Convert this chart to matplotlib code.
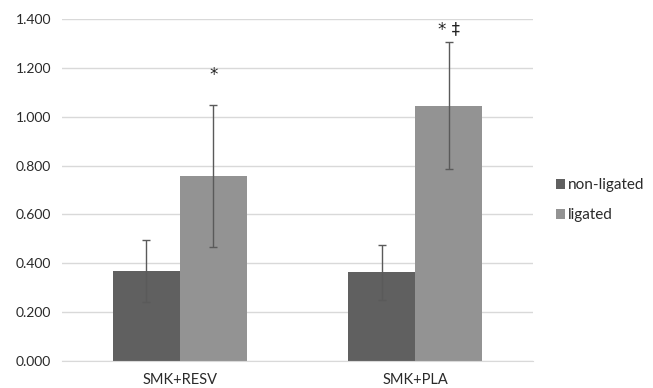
import matplotlib.pyplot as plt
import numpy as np

groups = ["SMK+RESV", "SMK+PLA"]
non_ligated = [0.368, 0.364]
ligated = [0.757, 1.046]
non_ligated_err_lo = [0.128, 0.114]
non_ligated_err_hi = [0.127, 0.111]
ligated_err_lo = [0.290, 0.258]
ligated_err_hi = [0.293, 0.260]
marks = ["*", "* \u2021"]
mark_heights = [1.17, 1.36]

plt.rcParams['font.family'] = ['Lato', 'DejaVu Sans']

fig = plt.figure(figsize=(6.53, 3.88), dpi=100)
ax = fig.add_axes([0.095, 0.0696, 0.721, 0.881])

x = np.arange(len(groups))
w = 0.285
err_style = dict(ecolor='#5a5a5a', elinewidth=1.0, capsize=3, capthick=1.0)
ax.bar(x - w / 2, non_ligated, w, color='#606060', label='non-ligated',
       yerr=[non_ligated_err_lo, non_ligated_err_hi], error_kw=err_style, zorder=2)
ax.bar(x + w / 2, ligated, w, color='#939393', label='ligated',
       yerr=[ligated_err_lo, ligated_err_hi], error_kw=err_style, zorder=2)

for xi, m, h in zip(x, marks, mark_heights):
    ax.text(xi + w / 2, h, m, ha='center', va='center', fontsize=12,
            color='#222222', family='DejaVu Sans')

ax.set_xlim(-0.5, 1.5)
ax.set_ylim(0, 1.4)
ax.set_yticks(np.arange(0, 1.41, 0.2))
ax.set_yticklabels([f"{v:.3f}" for v in np.arange(0, 1.41, 0.2)])
ax.set_xticks(x)
ax.set_xticklabels(groups)
ax.tick_params(axis='y', length=0, labelsize=10, colors='#2a2a2a', pad=8)
ax.tick_params(axis='x', length=0, labelsize=10.5, colors='#2a2a2a', pad=9)
ax.grid(axis='y', color='#d9d9d9', linewidth=1, zorder=0)
for s in ['top', 'right', 'left']:
    ax.spines[s].set_visible(False)
ax.spines['bottom'].set_color('#d9d9d9')

ax.legend(loc='center left', bbox_to_anchor=(1.02, 0.47), frameon=False,
          fontsize=11, handlelength=0.6, handleheight=0.6, handletextpad=0.2,
          labelspacing=1.05, labelcolor='#2a2a2a')

fig.savefig('out.png', dpi=100)
